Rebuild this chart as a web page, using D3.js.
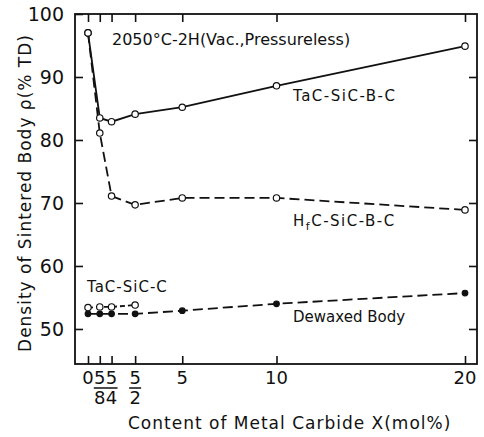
<html>
  <head>
    <script src="https://d3js.org/d3.v7.min.js"></script>
  </head>
  <body style="margin:0;background:#fff;">
    <div id="chart"></div>
<style>
  text { font-family: "DejaVu Sans", sans-serif; fill: #111; }
  .axis path, .axis line { stroke: #111; stroke-width: 1.6px; }
</style>
    <script>
      // data
      const xPos = [0, 0.625, 1.25, 2.5, 5, 10, 20];
      const xTickLabels = [["0"], ["5", "8"], ["5", "4"], ["5", "2"], ["5"], ["10"], ["20"]];
      const yTicks = [50, 60, 70, 80, 90, 100];
      const tacSicBC = [97, 83.5, 82.9, 84.1, 85.2, 88.6, 94.9];
      const hfcSicBC = [97, 81.1, 71.1, 69.7, 70.8, 70.8, 68.9];
      const tacSicC = [53.4, 53.5, 53.5, 53.8];
      const dewaxed = [52.4, 52.4, 52.4, 52.4, 52.9, 54.0, 55.7];

      const width = 484, height = 437;
      const frame = {left: 75, right: 477, top: 14, bottom: 364};

      const svg = d3.create('svg')
        .attr('width', width)
        .attr('height', height);

      const xScale = d3.scaleLinear().domain([0, 20]).range([88, 465]);
      const yScale = d3.scaleLinear().domain([44.44, 100]).range([frame.bottom, frame.top]);

      // frame
      svg.append('rect')
        .attr('x', frame.left).attr('y', frame.top)
        .attr('width', frame.right - frame.left).attr('height', frame.bottom - frame.top)
        .attr('fill', 'none').attr('stroke', '#111').attr('stroke-width', 1.8);

      // inward ticks on all four sides
      svg.append('g').attr('class', 'axis')
        .attr('transform', `translate(${frame.left},0)`)
        .call(d3.axisLeft(yScale).tickValues(yTicks).tickSize(-8).tickPadding(11).tickFormat(d3.format('d')))
        .call(g => g.select('.domain').remove())
        .call(g => g.selectAll('text').style('font-size', '19px').attr('fill', '#111'));

      svg.append('g').attr('class', 'axis')
        .attr('transform', `translate(${frame.right},0)`)
        .call(d3.axisRight(yScale).tickValues(yTicks.slice(0, 5)).tickSize(-8).tickFormat(''))
        .call(g => g.select('.domain').remove());

      svg.append('g').attr('class', 'axis')
        .attr('transform', `translate(0,${frame.top})`)
        .call(d3.axisTop(xScale).tickValues(xPos).tickSize(-8).tickFormat(''))
        .call(g => g.select('.domain').remove());

      svg.append('g').attr('class', 'axis')
        .attr('transform', `translate(0,${frame.bottom})`)
        .call(d3.axisBottom(xScale).tickValues(xPos).tickSize(-8).tickFormat(''))
        .call(g => g.select('.domain').remove());

      // x tick labels, fractions stacked
      xPos.forEach((v, i) => {
        const lab = xTickLabels[i];
        const g = svg.append('g').attr('transform', `translate(${xScale(v)},0)`);
        g.append('text').attr('y', 384).attr('text-anchor', 'middle')
          .style('font-size', '18px').text(lab[0]);
        if (lab.length > 1) {
          g.append('line').attr('x1', -6).attr('x2', 6).attr('y1', 388).attr('y2', 388)
            .attr('stroke', '#111').attr('stroke-width', 1.5);
          g.append('text').attr('y', 404).attr('text-anchor', 'middle')
            .style('font-size', '18px').text(lab[1]);
        }
      });

      const line = d3.line().x(d => xScale(d[0])).y(d => yScale(d[1]));
      const zip = (vals) => vals.map((v, i) => [xPos[i], v]);

      function series(vals, dash, filled, r) {
        const pts = zip(vals);
        svg.append('path').datum(pts)
          .attr('d', line).attr('fill', 'none')
          .attr('stroke', '#111').attr('stroke-width', 1.8)
          .attr('stroke-dasharray', dash);
        svg.append('g').selectAll('circle').data(pts).enter().append('circle')
          .attr('cx', d => xScale(d[0])).attr('cy', d => yScale(d[1]))
          .attr('r', r)
          .attr('fill', filled ? '#111' : '#fff')
          .attr('stroke', '#111').attr('stroke-width', 1.2);
      }

      series(hfcSicBC, '10,5', false, 3.2);
      series(tacSicBC, null, false, 3.2);
      series(dewaxed, '10,5', true, 2.8);
      series(tacSicC, '5,3', false, 3.2);

      // annotations
      const label = (x, y, t, size, ls) => svg.append('text').attr('x', x).attr('y', y)
        .style('font-size', size + 'px').style('letter-spacing', ls + 'px').text(t);
      label(112, 45, '2050°C-2H(Vac.,Pressureless)', 16, 0);
      label(293, 101, 'TaC-SiC-B-C', 15, 1.5);
      const hf = label(293, 226, 'H', 15, 1.5);
      hf.append('tspan').attr('dy', 4).style('font-size', '11px').text('f');
      hf.append('tspan').attr('dy', -4).text('C-SiC-B-C');
      label(87, 292, 'TaC-SiC-C', 15, 1);
      label(293, 322, 'Dewaxed Body', 15, 0);

      // axis titles
      svg.append('text').attr('x', 128).attr('y', 429)
        .style('font-size', '17px').style('letter-spacing', '1px')
        .text('Content of Metal Carbide  X(mol%)');
      svg.append('text').attr('transform', 'translate(31,193) rotate(-90)')
        .attr('text-anchor', 'middle').style('font-size', '17px').style('letter-spacing', '1px')
        .text('Density of Sintered Body  ρ(% TD)');

      document.getElementById('chart').appendChild(svg.node());
    </script>
  </body>
</html>
